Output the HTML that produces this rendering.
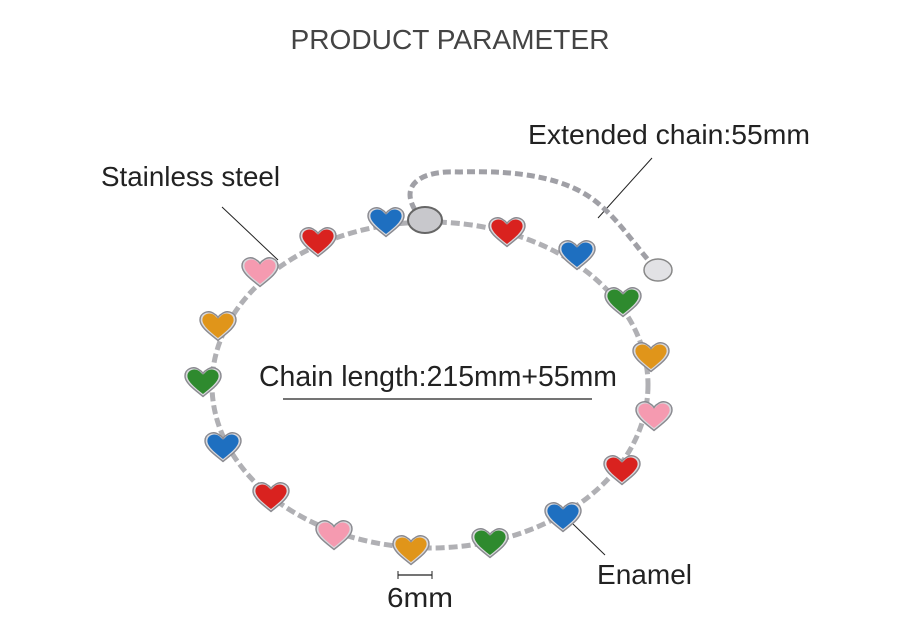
<!DOCTYPE html>
<html><head><meta charset="utf-8"><style>
html,body{margin:0;padding:0;background:#fff;}
svg{display:block;}
text{font-family:"Liberation Sans","DejaVu Sans",sans-serif;}
</style></head><body>
<svg width="900" height="629" viewBox="0 0 900 629" xmlns="http://www.w3.org/2000/svg">
<defs>
<g id="hb"><path d="M0,12 C-6,7 -15,1 -15,-5 C-15,-11 -8,-14 -3,-10 C-1,-9 0,-7 0,-7 C0,-7 1,-9 3,-10 C8,-14 15,-11 15,-5 C15,1 6,7 0,12Z" fill="#d8d8dc" stroke="#8a8a90" stroke-width="1.2"/></g>
<path id="hi" d="M0,10 C-5,6 -13,0 -13,-5 C-13,-10 -7,-12 -3,-9 L0,-6 L3,-9 C7,-12 13,-10 13,-5 C13,0 5,6 0,10Z"/>
</defs>
<rect width="900" height="629" fill="#fff"/>
<text x="450" y="49" font-size="27.5" fill="#444" text-anchor="middle" textLength="319" lengthAdjust="spacingAndGlyphs">PRODUCT PARAMETER</text>
<text x="528" y="144" font-size="28" fill="#222" textLength="282" lengthAdjust="spacingAndGlyphs">Extended chain:55mm</text>
<text x="101" y="186" font-size="28" fill="#222" textLength="179" lengthAdjust="spacingAndGlyphs">Stainless steel</text>
<text x="259" y="386" font-size="28.5" fill="#222" textLength="358" lengthAdjust="spacingAndGlyphs">Chain length:215mm+55mm</text>
<text x="597" y="584" font-size="28" fill="#222" textLength="95" lengthAdjust="spacingAndGlyphs">Enamel</text>
<text x="387" y="607" font-size="28" fill="#222" textLength="66" lengthAdjust="spacingAndGlyphs">6mm</text>
<line x1="283" y1="399" x2="592" y2="399" stroke="#222" stroke-width="1.2"/>
<line x1="398" y1="575" x2="432" y2="575" stroke="#222" stroke-width="1.2"/>
<line x1="398" y1="571" x2="398" y2="579" stroke="#222"/>
<line x1="432" y1="571" x2="432" y2="579" stroke="#222"/>
<line x1="222" y1="207" x2="278" y2="260" stroke="#222"/>
<line x1="652" y1="158" x2="598" y2="218" stroke="#222"/>
<line x1="573" y1="524" x2="605" y2="555" stroke="#222"/>
<ellipse cx="430" cy="385" rx="218" ry="163" fill="none" stroke="#b0b0b4" stroke-width="5" stroke-dasharray="9 4"/>
<path d="M415,210 C400,185 420,170 460,172 C520,170 570,178 600,205 C620,222 635,245 650,262" fill="none" stroke="#a0a0a6" stroke-width="5" stroke-dasharray="8 4"/>
<ellipse cx="658" cy="270" rx="14" ry="11" fill="#e2e2e5" stroke="#888" stroke-width="1.5"/>
<ellipse cx="425" cy="220" rx="17" ry="13" fill="#c8c8cc" stroke="#666" stroke-width="2"/>
<g id="hearts">
<g transform="translate(318,242) scale(1.2)"><use href="#hb"/><use href="#hi" fill="#d9221f"/></g>
<g transform="translate(386,222) scale(1.2)"><use href="#hb"/><use href="#hi" fill="#1e6fc0"/></g>
<g transform="translate(507,232) scale(1.2)"><use href="#hb"/><use href="#hi" fill="#d9221f"/></g>
<g transform="translate(577,255) scale(1.2)"><use href="#hb"/><use href="#hi" fill="#1e6fc0"/></g>
<g transform="translate(623,302) scale(1.2)"><use href="#hb"/><use href="#hi" fill="#2e8a2e"/></g>
<g transform="translate(651,357) scale(1.2)"><use href="#hb"/><use href="#hi" fill="#e0951a"/></g>
<g transform="translate(654,416) scale(1.2)"><use href="#hb"/><use href="#hi" fill="#f59ab0"/></g>
<g transform="translate(622,470) scale(1.2)"><use href="#hb"/><use href="#hi" fill="#d9221f"/></g>
<g transform="translate(563,517) scale(1.2)"><use href="#hb"/><use href="#hi" fill="#1e6fc0"/></g>
<g transform="translate(490,543) scale(1.2)"><use href="#hb"/><use href="#hi" fill="#2e8a2e"/></g>
<g transform="translate(411,550) scale(1.2)"><use href="#hb"/><use href="#hi" fill="#e0951a"/></g>
<g transform="translate(334,535) scale(1.2)"><use href="#hb"/><use href="#hi" fill="#f59ab0"/></g>
<g transform="translate(271,497) scale(1.2)"><use href="#hb"/><use href="#hi" fill="#d9221f"/></g>
<g transform="translate(223,447) scale(1.2)"><use href="#hb"/><use href="#hi" fill="#1e6fc0"/></g>
<g transform="translate(203,382) scale(1.2)"><use href="#hb"/><use href="#hi" fill="#2e8a2e"/></g>
<g transform="translate(218,326) scale(1.2)"><use href="#hb"/><use href="#hi" fill="#e0951a"/></g>
<g transform="translate(260,272) scale(1.2)"><use href="#hb"/><use href="#hi" fill="#f59ab0"/></g>
</g>
</svg>
</body></html>
